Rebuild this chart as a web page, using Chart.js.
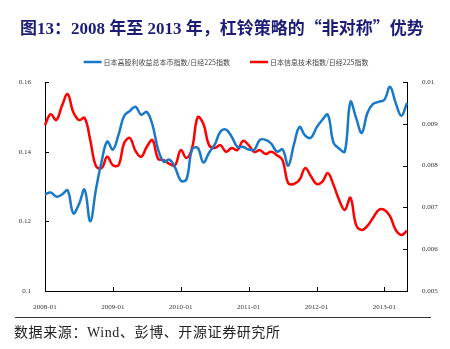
<!DOCTYPE html>
<html><head><meta charset="utf-8">
<script src="https://cdn.jsdelivr.net/npm/chart.js@4"></script>
<style>
html,body{margin:0;padding:0;background:#fff;width:450px;height:349px;overflow:hidden;}
#wrap{position:absolute;left:0;top:0;width:450px;height:349px;}
#title{position:absolute;left:20px;top:14px;font:bold 17px "Liberation Serif","Noto Sans CJK SC";color:#1c1c78;white-space:nowrap;}
#title .q{font-family:"Noto Sans CJK SC";}
#rule{position:absolute;left:15px;width:416px;top:317px;height:0;border-top:1px solid #333;}
#src{position:absolute;left:14px;top:321px;font:14px "Liberation Serif","Noto Sans CJK SC";color:#222;white-space:nowrap;letter-spacing:0.6px;}
</style></head><body>
<div id="wrap"><canvas id="c" width="450" height="349" style="width:450px;height:349px"></canvas></div>
<div id="title">图13：2008 年至 2013 年，杠铃策略的<span class="q">“</span>非对称<span class="q">”</span>优势</div>
<div id="rule"></div>
<div id="src">数据来源：Wind、彭博、开源证券研究所</div>
<script>
// months 2008-01 .. 2013-05
const months = [];
for (let yr = 2008; yr <= 2013; yr++) for (let mo = 1; mo <= 12; mo++) {
  if (yr === 2013 && mo > 5) break;
  months.push(yr + '-' + String(mo).padStart(2, '0'));
}
const seriesNames = ['日本高股利收益总本币指数/日经225指数', '日本信息技术指数/日经225指数'];
const highDividend = [0.1277,0.1283,0.1271,0.1277,0.1289,0.1223,0.1249,0.1291,0.1200,0.1291,
 0.1371,0.1429,0.1406,0.1449,0.1503,0.1517,0.1529,0.1506,0.1514,0.1477,
 0.1406,0.1371,0.1377,0.1354,0.1317,0.1320,0.1406,0.1411,0.1369,0.1397,
 0.1420,0.1457,0.1463,0.1443,0.1414,0.1414,0.1406,0.1406,0.1434,0.1434,
 0.1423,0.1400,0.1406,0.1360,0.1420,0.1471,0.1446,0.1440,0.1469,0.1491,
 0.1506,0.1426,0.1409,0.1400,0.1543,0.1497,0.1454,0.1511,0.1537,0.1543,
 0.1549,0.1586,0.1540,0.1503,0.1540];
const infoTech = [0.00897,0.00923,0.00909,0.00943,0.00971,0.00928,0.00909,0.00914,0.00861,0.00799,
 0.00794,0.00821,0.00801,0.00801,0.00854,0.00866,0.00835,0.00821,0.00845,0.00861,
 0.00816,0.00813,0.00804,0.00801,0.00837,0.00818,0.00842,0.00916,0.00900,0.00849,
 0.00842,0.00849,0.00833,0.00842,0.00837,0.00859,0.00849,0.00833,0.00837,0.00828,
 0.00833,0.00825,0.00813,0.00758,0.00756,0.00766,0.00794,0.00775,0.00756,0.00761,
 0.00782,0.00754,0.00718,0.00694,0.00723,0.00658,0.00646,0.00656,0.00675,0.00694,
 0.00694,0.00679,0.00646,0.00634,0.00644];
const leftTickLabels = ['0.1','0.12','0.14','0.16'];
const rightTickLabels = ['0.005','0.006','0.007','0.008','0.009','0.01'];
const blue = '#1a78c8', red = '#ff0000';
const tickFont = {family:'"Liberation Serif"', size:7};

const innerTicks = {
  id:'innerTicks',
  afterDraw(chart){
    const ctx = chart.ctx, {x, y, y1} = chart.scales, a = chart.chartArea;
    ctx.save(); ctx.strokeStyle = '#000'; ctx.lineWidth = 1; ctx.beginPath();
    months.forEach((m,i)=>{ if (m.endsWith('-01') && i>0){ const px=Math.round(x.getPixelForValue(i))+0.5; ctx.moveTo(px,a.bottom); ctx.lineTo(px,a.bottom-4);} });
    y.ticks.forEach(t=>{ const py=Math.round(y.getPixelForValue(t.value))+0.5; ctx.moveTo(a.left,py); ctx.lineTo(a.left+4,py); });
    y1.ticks.forEach(t=>{ const py=Math.round(y1.getPixelForValue(t.value))+0.5; ctx.moveTo(a.right,py); ctx.lineTo(a.right-4,py); });
    ctx.stroke(); ctx.restore();
  }
};
const topLegend = {
  id:'topLegend',
  afterDraw(chart){
    const ctx = chart.ctx, a = chart.chartArea, ds = chart.data.datasets;
    ctx.save(); ctx.font = '7px "Noto Sans CJK SC"'; ctx.textBaseline = 'middle'; ctx.fillStyle = '#444';
    const box = 18, gap = 2, space = 20;
    const widths = ds.map(d=>ctx.measureText(d.label).width);
    const total = widths.reduce((s,w)=>s+box+gap+w,0) + space*(ds.length-1);
    let cx = (a.left+a.right)/2 - total/2; const cy = a.top - 20;
    ds.forEach((d,i)=>{
      ctx.strokeStyle = d.borderColor; ctx.lineWidth = 2.5;
      ctx.beginPath(); ctx.moveTo(cx, cy); ctx.lineTo(cx+box, cy); ctx.stroke();
      ctx.fillStyle = '#444'; ctx.fillText(d.label, cx+box+gap, cy);
      cx += box + gap + widths[i] + space;
    });
    ctx.restore();
  }
};

new Chart(document.getElementById('c'), {
  type:'line',
  data:{ labels: months, datasets:[
    {label:seriesNames[0], data:highDividend, yAxisID:'y', borderColor:blue, backgroundColor:blue, borderWidth:2.5, pointRadius:0, tension:0.4, fill:false},
    {label:seriesNames[1], data:infoTech, yAxisID:'y1', borderColor:red, backgroundColor:red, borderWidth:2.5, pointRadius:0, tension:0.4, fill:false}
  ]},
  options:{
    responsive:false, animation:false, devicePixelRatio:1,
    layout:{padding:{top:82,bottom:0,left:0,right:0}},
    plugins:{legend:{display:false}, tooltip:{enabled:false}},
    scales:{
      x:{type:'category', offset:false, grid:{display:false}, border:{display:true,color:'#000',width:1},
         ticks:{autoSkip:false, maxRotation:0, minRotation:0, padding:4, font:tickFont, color:'#333',
           callback:(v,i)=> months[i].endsWith('-01') ? months[i] : ''},
         afterFit:s=>{s.height=58;}},
      y:{position:'left', min:0.1, max:0.16, grid:{display:false}, border:{display:true,color:'#000',width:1},
         ticks:{stepSize:0.02, padding:6, font:tickFont, color:'#333', callback:v=>leftTickLabels[Math.round((v-0.1)/0.02)]},
         afterFit:s=>{s.width=45;}},
      y1:{position:'right', min:0.005, max:0.01, grid:{display:false}, border:{display:true,color:'#000',width:1},
         ticks:{stepSize:0.001, padding:7, font:tickFont, color:'#333', callback:v=>rightTickLabels[Math.round((v-0.005)/0.001)]},
         afterFit:s=>{s.width=43;}}
    }
  },
  plugins:[innerTicks, topLegend]
});
</script>
</body></html>
